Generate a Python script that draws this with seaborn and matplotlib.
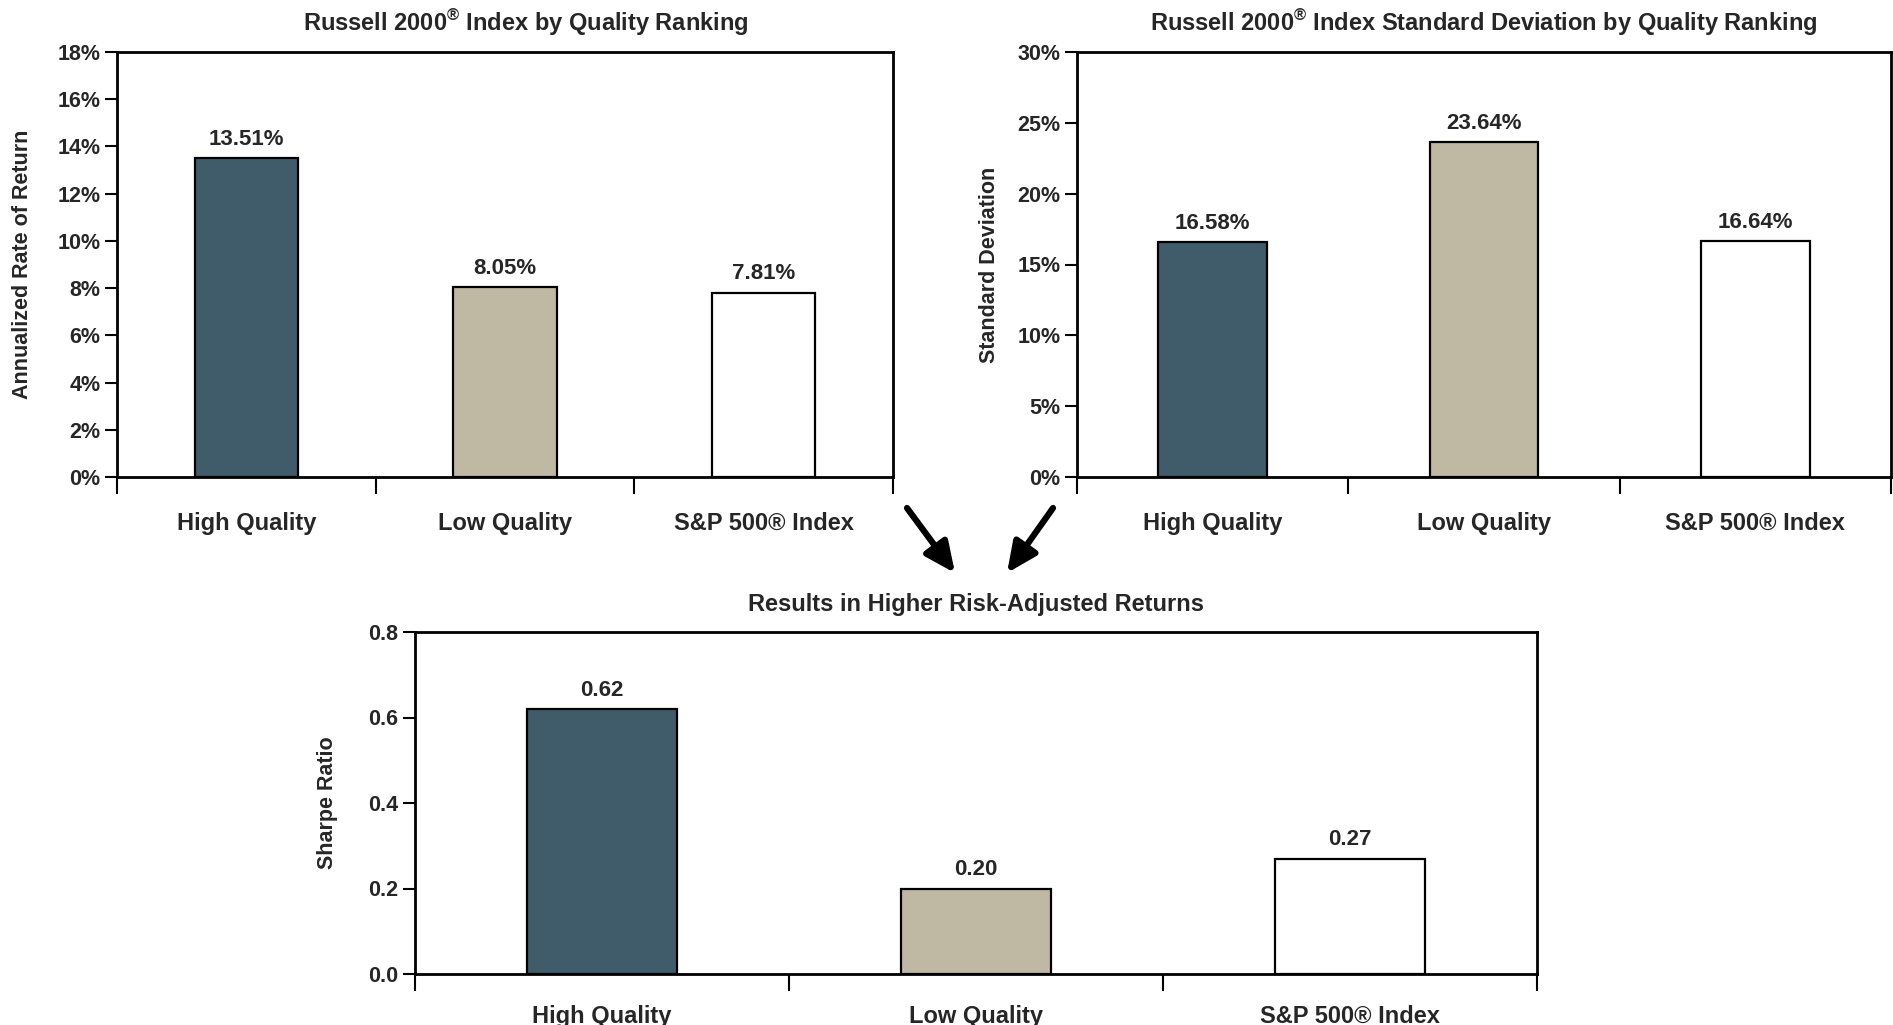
import seaborn as sns
import matplotlib.pyplot as plt
from matplotlib import font_manager
from matplotlib.patches import FancyArrowPatch
from matplotlib.ticker import FixedLocator, FuncFormatter

categories = ["High Quality", "Low Quality", "S&P 500® Index"]
returns = [13.51, 8.05, 7.81]
std_dev = [16.58, 23.64, 16.64]
sharpe = [0.62, 0.20, 0.27]

colors = ["#405B69", "#BFB8A2", "#FFFFFF"]

sns.set_theme(style="white")

names = {f.name for f in font_manager.fontManager.ttflist}
narrow = "Liberation Sans Narrow" if "Liberation Sans Narrow" in names else "Liberation Sans"
plt.rcParams["font.family"] = [narrow, "DejaVu Sans"]
plt.rcParams["mathtext.fontset"] = "custom"
plt.rcParams["mathtext.rm"] = narrow + ":bold"
plt.rcParams["mathtext.bf"] = narrow + ":bold"

fig = plt.figure(figsize=(18.93, 10.25), dpi=100)
W, H = 1893, 1025


def box(l, t, r, b):
    return [l / W, 1 - b / H, (r - l) / W, (b - t) / H]


ax1 = fig.add_axes(box(117, 52, 893, 477))
ax2 = fig.add_axes(box(1077, 52, 1891, 477))
ax3 = fig.add_axes(box(415, 632, 1537, 974))


def draw(ax, vals, title, ylabel, ymax, step, fmt, lab_fmt, label_x, title_x=0.5, xpad=25):
    sns.barplot(x=categories, y=vals, hue=categories, palette=colors, saturation=1,
                edgecolor="black", linewidth=1.6, width=0.4, legend=False, ax=ax)
    ax.set_xlim(-0.5, 2.5)
    ax.set_ylim(0, ymax)
    ticks = [i * step for i in range(int(round(ymax / step)) + 1)]
    ax.yaxis.set_major_locator(FixedLocator(ticks))
    ax.yaxis.set_major_formatter(FuncFormatter(fmt))
    ax.xaxis.set_minor_locator(FixedLocator([-0.5, 0.5, 1.5, 2.5]))
    ax.tick_params(axis="x", which="major", length=0, pad=xpad, labelsize=17)
    ax.tick_params(axis="x", which="minor", bottom=True, direction="out",
                   length=12, width=1.5, color="black")
    ax.tick_params(axis="y", left=True, direction="out", length=9, width=1.5,
                   color="black", labelsize=15.5, pad=3)
    for lab in ax.get_xticklabels() + ax.get_yticklabels():
        lab.set_fontweight("bold")
    for s in ax.spines.values():
        s.set_color("black")
        s.set_linewidth(2)
    ax.set_title(title, fontsize=17, fontweight="bold", pad=15, x=title_x)
    ax.set_ylabel(ylabel, fontdict={"family": ["Liberation Sans"], "weight": "bold",
                                    "size": 15.5})
    ax.yaxis.set_label_coords(label_x, 0.5)
    for c, v in zip(ax.containers, vals):
        ax.bar_label(c, labels=[lab_fmt(v)], padding=6, fontsize=16, fontweight="bold")


draw(ax1, returns, r"Russell 2000$^{\mathrm{®}}$ Index by Quality Ranking",
     "Annualized Rate of Return", 18, 2, lambda v, p: f"{v:.0f}%",
     lambda v: f"{v:.2f}%", -0.108, title_x=0.527)
draw(ax2, std_dev, r"Russell 2000$^{\mathrm{®}}$ Index Standard Deviation by Quality Ranking",
     "Standard Deviation", 30, 5, lambda v, p: f"{v:.0f}%",
     lambda v: f"{v:.2f}%", -0.095)
draw(ax3, sharpe, "Results in Higher Risk-Adjusted Returns",
     "Sharpe Ratio", 0.8, 0.2, lambda v, p: f"{v:.1f}",
     lambda v: f"{v:.2f}", -0.069, xpad=22)

for start, end in [((907, 508), (955, 573)), ((1053, 508), (1007, 573))]:
    fig.add_artist(FancyArrowPatch(
        (start[0] / W, 1 - start[1] / H), (end[0] / W, 1 - end[1] / H),
        transform=fig.transFigure, arrowstyle="-|>,head_length=1.3,head_width=0.6",
        color="black", lw=4.5, mutation_scale=14, shrinkA=0, shrinkB=0))

fig.savefig("out.png", dpi=100)
